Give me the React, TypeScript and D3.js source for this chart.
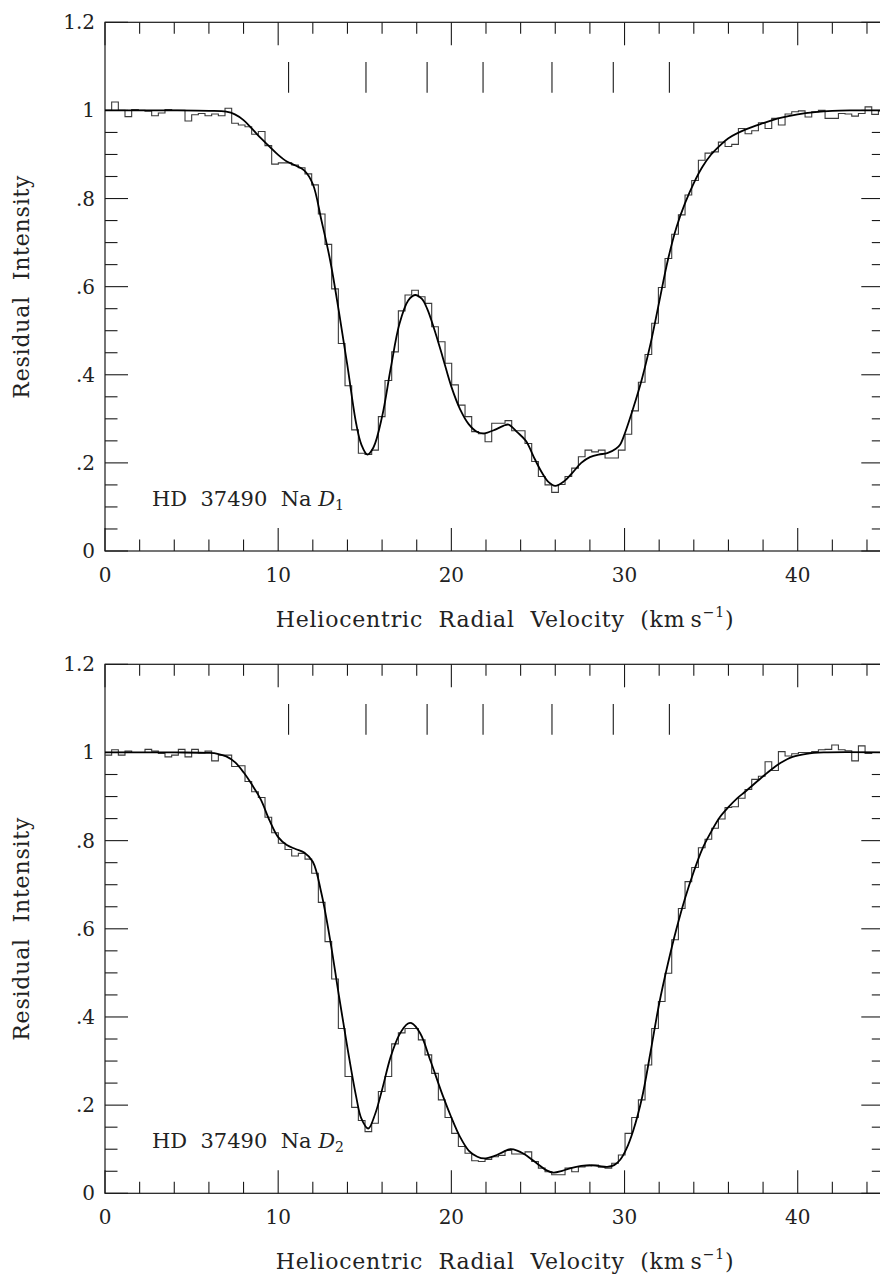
import React from 'react';
import * as d3 from 'd3';

// Histogram bins (residual intensity), bin width in km/s
const BIN_START = 0;
const BIN_WIDTH = 0.385;

const D1_HIST = [
  1.000, 1.019, 1.000, 0.986, 1.002, 1.000, 0.998, 0.988, 0.994, 1.002,
  1.000, 1.000, 0.976, 0.990, 0.993, 0.988, 0.992, 0.988, 1.005, 0.971,
  0.967, 0.963, 0.946, 0.952, 0.920, 0.878, 0.881, 0.881, 0.876, 0.870,
  0.856, 0.831, 0.765, 0.696, 0.595, 0.471, 0.375, 0.275, 0.222, 0.219,
  0.229, 0.305, 0.387, 0.452, 0.545, 0.581, 0.592, 0.577, 0.562, 0.509,
  0.475, 0.426, 0.377, 0.331, 0.305, 0.271, 0.266, 0.248, 0.290, 0.290,
  0.296, 0.273, 0.273, 0.244, 0.203, 0.169, 0.150, 0.133, 0.151, 0.169,
  0.188, 0.214, 0.229, 0.225, 0.229, 0.211, 0.211, 0.229, 0.265, 0.318,
  0.383, 0.446, 0.517, 0.598, 0.664, 0.719, 0.763, 0.808, 0.841, 0.887,
  0.903, 0.906, 0.928, 0.918, 0.923, 0.959, 0.947, 0.954, 0.972, 0.959,
  0.982, 0.967, 0.992, 0.997, 0.999, 0.985, 0.997, 1.000, 0.982, 0.982,
  0.993, 0.992, 0.987, 0.993, 1.008, 0.991, 0.999,
];

const D2_HIST = [
  0.994, 1.006, 0.994, 1.003, 1.000, 1.000, 1.007, 1.003, 0.998, 0.990,
  0.994, 1.007, 0.990, 1.007, 0.999, 1.003, 0.981, 0.994, 0.994, 0.968,
  0.970, 0.934, 0.911, 0.898, 0.853, 0.818, 0.794, 0.780, 0.765, 0.771,
  0.758, 0.726, 0.660, 0.571, 0.486, 0.374, 0.265, 0.195, 0.165, 0.140,
  0.159, 0.231, 0.265, 0.339, 0.364, 0.374, 0.374, 0.348, 0.314, 0.272,
  0.212, 0.172, 0.136, 0.106, 0.091, 0.074, 0.072, 0.077, 0.083, 0.086,
  0.097, 0.089, 0.089, 0.094, 0.072, 0.057, 0.049, 0.042, 0.042, 0.057,
  0.049, 0.060, 0.062, 0.064, 0.059, 0.057, 0.068, 0.087, 0.136, 0.172,
  0.212, 0.291, 0.374, 0.435, 0.499, 0.575, 0.646, 0.707, 0.739, 0.784,
  0.803, 0.828, 0.849, 0.875, 0.877, 0.896, 0.916, 0.939, 0.946, 0.979,
  0.959, 1.002, 0.992, 0.997, 1.000, 1.000, 1.002, 1.006, 1.007, 1.017,
  1.006, 1.004, 0.981, 1.015, 0.998, 1.000, 1.000,
];

// Fitted profiles: velocity (km/s) and intensity
const D1_FIT_V = [
  0, 4, 6, 7, 7.5, 8, 8.5, 9, 9.5, 10, 10.5, 11, 11.5, 12, 12.5, 13, 13.5, 14,
  14.5, 14.8, 15.15, 15.5, 16, 16.5, 17, 17.5, 17.9, 18.3, 18.6, 19, 19.5, 20,
  20.5, 21, 21.5, 21.9, 22.5, 23, 23.3, 23.8, 24.3, 24.8, 25.2, 25.6, 26, 26.5,
  27, 27.5, 28, 28.5, 29, 29.5, 29.75, 30, 30.5, 31, 31.5, 32, 32.5, 33, 33.5,
  34, 34.5, 35, 35.5, 36, 37, 38, 39, 40, 41, 42, 43, 45,
];
const D1_FIT_I = [
  1.0, 1.0, 0.999, 0.997, 0.991, 0.978, 0.958, 0.937, 0.918, 0.899, 0.884, 0.875,
  0.864, 0.833, 0.75, 0.66, 0.545, 0.42, 0.29, 0.242, 0.219, 0.235, 0.305, 0.415,
  0.515, 0.568, 0.581, 0.572, 0.55, 0.505, 0.44, 0.373, 0.322, 0.288, 0.27, 0.267,
  0.275, 0.284, 0.287, 0.27, 0.25, 0.21, 0.18, 0.157, 0.148, 0.158, 0.178, 0.2,
  0.213, 0.219, 0.222, 0.232, 0.242, 0.265, 0.324, 0.39, 0.47, 0.565, 0.66, 0.735,
  0.79, 0.835, 0.872, 0.9, 0.92, 0.937, 0.957, 0.971, 0.983, 0.991, 0.996, 0.999,
  1.0, 1.0,
];

const D2_FIT_V = [
  0, 4, 6, 6.5, 7, 7.5, 8, 8.5, 9, 9.5, 10, 10.5, 11, 11.5, 12, 12.5, 13, 13.5,
  14, 14.5, 14.8, 15.2, 15.6, 16, 16.5, 17, 17.5, 17.7, 18.2, 18.8, 19.5, 20,
  20.5, 21, 21.5, 21.9, 22.5, 23, 23.4, 23.8, 24.2, 24.6, 25, 25.5, 25.9, 26.4,
  26.9, 27.5, 28, 28.5, 29, 29.4, 29.75, 30.1, 30.5, 31, 31.5, 32, 32.5, 33,
  33.5, 34, 34.5, 35, 35.5, 36, 36.5, 37, 38, 38.5, 39, 39.7, 40.5, 41.5, 45,
];
const D2_FIT_I = [
  1.0, 1.0, 0.999, 0.997, 0.991, 0.978, 0.955, 0.926, 0.893, 0.846, 0.808, 0.79,
  0.781, 0.773, 0.752, 0.68, 0.575, 0.45, 0.33, 0.22, 0.17, 0.147, 0.18, 0.235,
  0.31, 0.36, 0.385, 0.386, 0.363, 0.3, 0.222, 0.172, 0.128, 0.097, 0.083, 0.079,
  0.085, 0.094, 0.1, 0.097, 0.089, 0.078, 0.066, 0.052, 0.047, 0.051, 0.057,
  0.062, 0.064, 0.062, 0.06, 0.064, 0.076, 0.1, 0.142, 0.215, 0.32, 0.43, 0.52,
  0.6, 0.67, 0.73, 0.782, 0.82, 0.853, 0.876, 0.896, 0.912, 0.946, 0.962, 0.976,
  0.99, 0.997, 1.0, 1.0,
];

// Component velocity markers (km/s)
const MARKERS = [10.6, 15.07, 18.6, 21.83, 25.81, 29.35, 32.59];
const MARKER_RANGE = [1.04, 1.11];

const X_DOMAIN = [0, 45];
const Y_DOMAIN = [0, 1.2];
const X_MAJOR = [0, 10, 20, 30, 40];
const X_LABELS = ['0', '10', '20', '30', '40'];
const Y_MAJOR = [0, 0.2, 0.4, 0.6, 0.8, 1.0, 1.2];
const Y_LABELS = ['0', '.2', '.4', '.6', '.8', '1', '1.2'];

const FONT = "'DejaVu Serif', serif";
const INK = '#1a1a1a';
const TEXT_INK = '#222';

interface PanelProps {
  id: string;
  top: number;
  bottom: number;
  hist: number[];
  fitV: number[];
  fitI: number[];
  sub: string;
}

const LEFT = 105;
const RIGHT = 884.3;

function Panel({ id, top, bottom, hist, fitV, fitI, sub }: PanelProps) {
  const x = d3.scaleLinear().domain(X_DOMAIN).range([LEFT, RIGHT]);
  const y = d3.scaleLinear().domain(Y_DOMAIN).range([bottom, top]);

  const histPts: [number, number][] = hist.map((v, k) => [BIN_START + k * BIN_WIDTH, v]);
  histPts.push([BIN_START + hist.length * BIN_WIDTH, hist[hist.length - 1]]);
  const histLine = d3
    .line<[number, number]>()
    .x((d) => x(d[0]))
    .y((d) => y(d[1]))
    .curve(d3.curveStepAfter);

  const fitPts: [number, number][] = fitV.map((v, i) => [v, fitI[i]]);
  const fitLine = d3
    .line<[number, number]>()
    .x((d) => x(d[0]))
    .y((d) => y(d[1]))
    .curve(d3.curveCatmullRom.alpha(0.5));

  const xMinor = d3.range(0, 45.01, 2).filter((v) => v % 10 !== 0);
  const yMinor = d3.range(0, 21).map((i) => i * 0.05).filter((_, i) => i % 4 !== 0);

  const MAJ = 23;
  const MIN = 11.5;
  const x0 = x(X_DOMAIN[0]);
  const x1 = x(X_DOMAIN[1]);

  return (
    <g>
      <defs>
        <clipPath id={`clip-${id}`}>
          <rect x={x0} y={top} width={x1 - x0} height={bottom - top} />
        </clipPath>
      </defs>
      {/* frame */}
      <rect x={x0} y={top} width={x1 - x0} height={bottom - top} fill="none" stroke={INK} strokeWidth={1.2} />
      {/* x ticks */}
      {X_MAJOR.map((v) => (
        <g key={`xm${v}`}>
          <line x1={x(v)} x2={x(v)} y1={bottom} y2={bottom - MAJ} stroke={INK} strokeWidth={1.1} />
          <line x1={x(v)} x2={x(v)} y1={top} y2={top + MAJ} stroke={INK} strokeWidth={1.1} />
        </g>
      ))}
      {xMinor.map((v) => (
        <g key={`xn${v}`}>
          <line x1={x(v)} x2={x(v)} y1={bottom} y2={bottom - MIN} stroke={INK} strokeWidth={1.1} />
          <line x1={x(v)} x2={x(v)} y1={top} y2={top + MIN} stroke={INK} strokeWidth={1.1} />
        </g>
      ))}
      {/* y ticks */}
      {Y_MAJOR.map((v) => (
        <g key={`ym${v}`}>
          <line x1={x0} x2={x0 + MAJ} y1={y(v)} y2={y(v)} stroke={INK} strokeWidth={1.1} />
          <line x1={x1} x2={x1 - MAJ} y1={y(v)} y2={y(v)} stroke={INK} strokeWidth={1.1} />
        </g>
      ))}
      {yMinor.map((v) => (
        <g key={`yn${v}`}>
          <line x1={x0} x2={x0 + MIN + 1} y1={y(v)} y2={y(v)} stroke={INK} strokeWidth={1.1} />
          <line x1={x1} x2={x1 - MIN - 1} y1={y(v)} y2={y(v)} stroke={INK} strokeWidth={1.1} />
        </g>
      ))}
      {/* tick labels */}
      {X_MAJOR.map((v, i) => (
        <text key={`xl${v}`} x={x(v)} y={bottom + 31} textAnchor="middle" fontFamily={FONT} fontSize={20} fill={TEXT_INK}>
          {X_LABELS[i]}
        </text>
      ))}
      {Y_MAJOR.map((v, i) => (
        <text key={`yl${v}`} x={95} y={y(v) + 7} textAnchor="end" fontFamily={FONT} fontSize={20} fill={TEXT_INK}>
          {Y_LABELS[i]}
        </text>
      ))}
      {/* markers */}
      {MARKERS.map((m) => (
        <line key={`mk${m}`} x1={x(m)} x2={x(m)} y1={y(MARKER_RANGE[0])} y2={y(MARKER_RANGE[1])} stroke={INK} strokeWidth={1.1} />
      ))}
      {/* data */}
      <g clipPath={`url(#clip-${id})`}>
        <path d={histLine(histPts) || ''} fill="none" stroke="#3a3a3a" strokeWidth={1.1} />
        <path d={fitLine(fitPts) || ''} fill="none" stroke="#000" strokeWidth={1.8} />
      </g>
      {/* axis titles */}
      <text
        x={505}
        y={bottom + 76}
        textAnchor="middle"
        fontFamily={FONT}
        fontSize={22}
        fill={TEXT_INK}
        letterSpacing={0.8}
        style={{ whiteSpace: 'pre' }}
      >
        {'Heliocentric  Radial  Velocity  (km\u2009s'}
        <tspan fontSize={14} dy={-10}>{'\u22121'}</tspan>
        <tspan dy={10}>)</tspan>
      </text>
      <text
        transform={`translate(29, ${(top + bottom) / 2}) rotate(-90)`}
        textAnchor="middle"
        fontFamily={FONT}
        fontSize={22}
        fill={TEXT_INK}
        letterSpacing={0.8}
        style={{ whiteSpace: 'pre' }}
      >
        {'Residual  Intensity'}
      </text>
      <text x={152} y={bottom - 45} fontFamily={FONT} fontSize={21} fill={TEXT_INK} style={{ whiteSpace: 'pre' }}>
        {'HD  37490  Na '}
        <tspan fontStyle="italic">D</tspan>
        <tspan fontSize={14} dy={4}>{sub}</tspan>
      </text>
    </g>
  );
}

export default function App() {
  return (
    <svg
      width={880}
      height={1277}
      viewBox="0 0 880 1277"
      style={{ position: 'absolute', left: 0, top: 0, background: '#fff' }}
    >
      <rect x={0} y={0} width={880} height={1277} fill="#fff" />
      <Panel id="d1" top={22.3} bottom={551} hist={D1_HIST} fitV={D1_FIT_V} fitI={D1_FIT_I} sub="1" />
      <Panel id="d2" top={664.3} bottom={1193.3} hist={D2_HIST} fitV={D2_FIT_V} fitI={D2_FIT_I} sub="2" />
    </svg>
  );
}
